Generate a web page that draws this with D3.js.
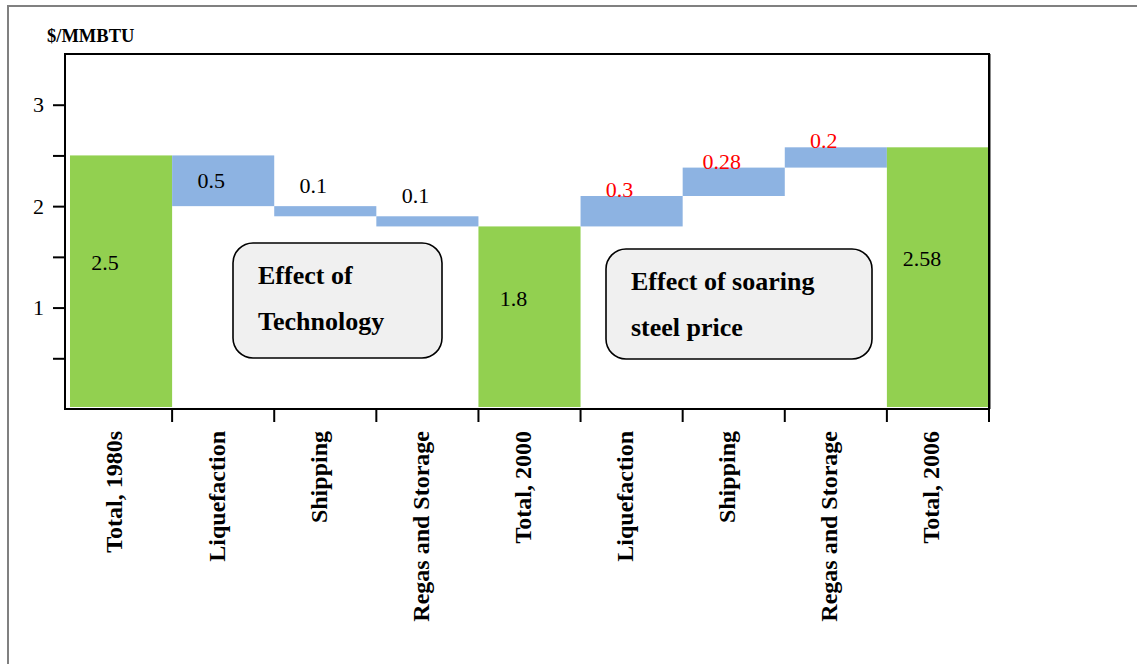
<!DOCTYPE html>
<html>
<head>
<meta charset="utf-8">
<script src="https://cdn.jsdelivr.net/npm/d3@7"></script>
<style>
  html, body { margin: 0; padding: 0; background: #fff; }
  svg, svg text { font-family: "Liberation Serif", "Times New Roman", serif; }
</style>
</head>
<body>
<svg id="chart" width="1137" height="664"></svg>
<script>
// LNG supply chain cost build-up, $/MMBTU
const categories = ["Total, 1980s", "Liquefaction", "Shipping", "Regas and Storage",
                    "Total, 2000", "Liquefaction", "Shipping", "Regas and Storage", "Total, 2006"];
const kinds = ["total", "step", "step", "step", "total", "step", "step", "step", "total"];
const values = [2.5, -0.5, -0.1, -0.1, 1.8, 0.3, 0.28, 0.2, 2.58];
const valueLabels = ["2.5", "0.5", "0.1", "0.1", "1.8", "0.3", "0.28", "0.2", "2.58"];
const yTicks = [0.5, 1, 1.5, 2, 2.5, 3];
const yTickLabels = ["", "1", "", "2", "", "3"];
const unitLabel = "$/MMBTU";
const noteLines = [["Effect of", "Technology"], ["Effect of soaring", "steel price"]];

const GREEN = "#92d050", BLUE = "#8db3e2";
const SERIF = "Liberation Serif, Times New Roman, serif";

const svg = d3.select("#chart").attr("font-family", SERIF);
const plot = { left: 65, right: 989, top: 54, bottom: 409 };

// Waterfall geometry: totals reset the running level, steps move it
let level = 0;
const bars = values.map((v, i) => {
  if (kinds[i] === "total") { level = v; return { i, lo: 0, hi: v, v }; }
  const start = level; level = start + v;
  return { i, lo: Math.min(start, level), hi: Math.max(start, level), v };
});

const x = d3.scaleBand().domain(d3.range(categories.length)).range([70, plot.right]).padding(0);
const y = d3.scaleLinear().domain([0, 3.5]).range([plot.bottom, plot.top]);

// Outer frame (open at the right and bottom)
svg.append("path")
  .attr("d", "M8,664 L8,6 L1137,6")
  .attr("fill", "none").attr("stroke", "#808080").attr("stroke-width", 2);

// Unit label
svg.append("text").attr("x", 47).attr("y", 42)
  .attr("font-family", SERIF)
  .attr("font-size", 18.5).attr("font-weight", "bold").text(unitLabel);

// Bars
svg.append("g").selectAll("rect").data(bars).join("rect")
  .attr("x", d => x(d.i))
  .attr("width", x.bandwidth())
  .attr("y", d => y(d.hi))
  .attr("height", d => kinds[d.i] === "total" ? y(d.lo) - y(d.hi) - 2 : y(d.lo) - y(d.hi))
  .attr("fill", d => kinds[d.i] === "total" ? GREEN : BLUE);

// Plot frame
svg.append("path")
  .attr("d", `M${plot.left},${plot.bottom} L${plot.left},${plot.top} L${plot.right},${plot.top} L${plot.right},${plot.bottom} Z`)
  .attr("fill", "none").attr("stroke", "#000").attr("stroke-width", 2);
svg.append("line")
  .attr("x1", plot.right + 1.5).attr("x2", plot.right + 1.5)
  .attr("y1", plot.top).attr("y2", plot.bottom)
  .attr("stroke", "#888").attr("stroke-width", 1);

// Y axis
const yAxis = d3.axisLeft(y).tickValues(yTicks).tickSize(12).tickPadding(9)
  .tickFormat((d, k) => yTickLabels[k]);
const gy = svg.append("g").attr("transform", `translate(${plot.left},0)`).call(yAxis)
  .attr("font-family", SERIF).attr("font-size", 22);
gy.select(".domain").remove();
gy.selectAll(".tick line").attr("stroke", "#000").attr("stroke-width", 2);
gy.selectAll(".tick text").attr("fill", "#000");

// X axis: ticks on band boundaries, rotated bold labels
const boundaries = d3.range(1, categories.length + 1).map(k => k === categories.length ? plot.right : x(k));
svg.append("g").selectAll("line").data(boundaries).join("line")
  .attr("x1", d => d).attr("x2", d => d)
  .attr("y1", plot.bottom).attr("y2", plot.bottom + 13)
  .attr("stroke", "#000").attr("stroke-width", 2);

svg.append("g").attr("font-family", SERIF)
  .selectAll("text").data(categories).join("text")
  .attr("transform", (d, i) => `translate(${x(i) + x.bandwidth() / 2 - 7},${plot.bottom + 22}) rotate(-90)`)
  .attr("text-anchor", "end")
  .attr("dy", "0.35em")
  .attr("font-size", 24).attr("font-weight", "bold")
  .text(d => d);

// Value labels
svg.append("g").attr("font-family", SERIF)
  .selectAll("text").data(bars).join("text")
  .attr("text-anchor", "middle")
  .attr("font-size", 22)
  .attr("fill", d => kinds[d.i] === "step" && d.v > 0 ? "#ff0000" : "#000")
  .attr("x", d => x(d.i) + x.bandwidth() / 2 - (kinds[d.i] === "total" ? 16 : 12))
  .attr("y", d => {
    const top = y(d.hi), bot = y(d.lo);
    if (kinds[d.i] === "total") return (top + bot) / 2 - 12;
    if (d.v > 0) return top + 1;
    if (bot - top > 30) return (top + bot) / 2 + 7;
    return top - 13;
  })
  .text((d, i) => valueLabels[i]);

// Annotation boxes
const notesLayout = [
  { x: 233, y: 243, w: 209, h: 115 },
  { x: 606, y: 249, w: 266, h: 110 }
];
const ng = svg.append("g").attr("font-family", SERIF)
  .selectAll("g").data(notesLayout).join("g");
ng.append("rect")
  .attr("x", d => d.x).attr("y", d => d.y).attr("width", d => d.w).attr("height", d => d.h)
  .attr("rx", 20).attr("ry", 20)
  .attr("fill", "#f0f0f0").attr("stroke", "#000").attr("stroke-width", 1.6);
ng.each(function (d, k) {
  d3.select(this).selectAll("text").data(noteLines[k]).join("text")
    .attr("x", d.x + 25)
    .attr("y", (t, j) => d.y + 41 + j * 46)
    .attr("font-size", 26).attr("font-weight", "bold")
    .text(t => t);
});
</script>
</body>
</html>
